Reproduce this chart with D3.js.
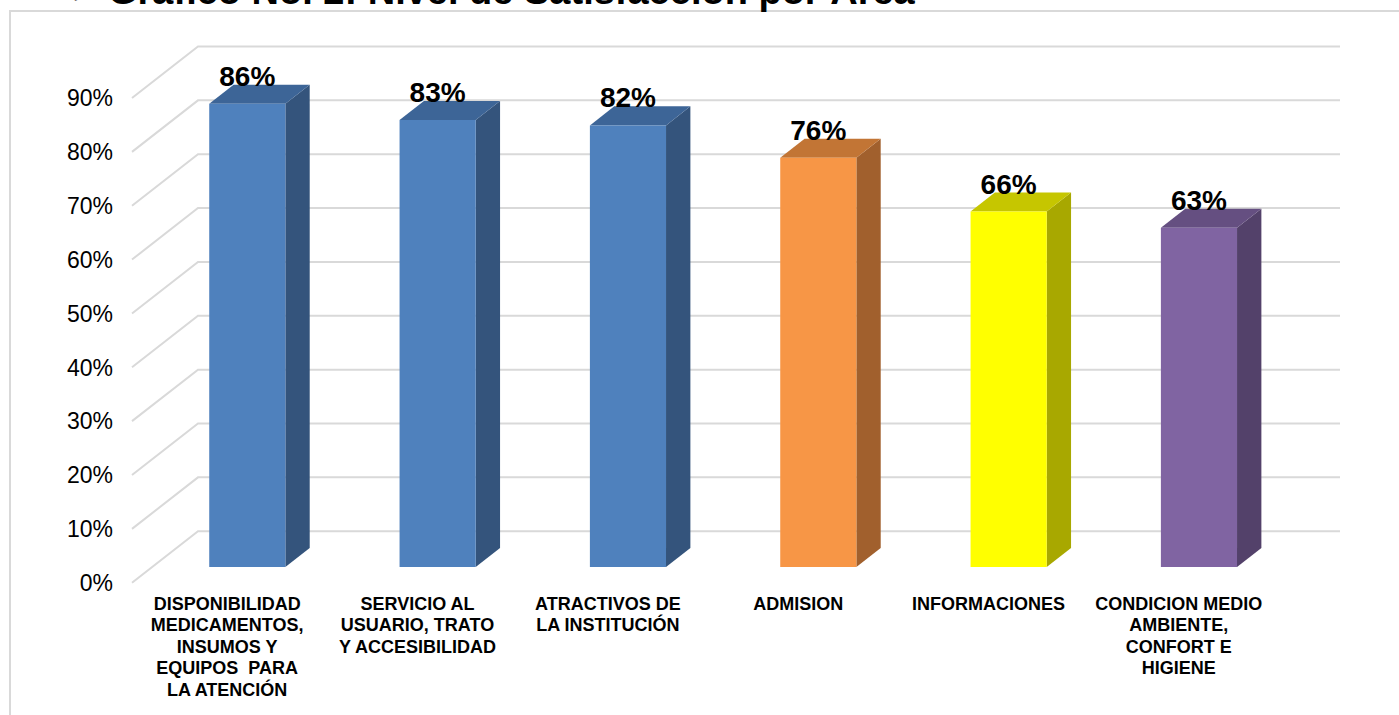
<!DOCTYPE html>
<html>
<head>
<meta charset="utf-8">
<script src="https://cdn.jsdelivr.net/npm/d3@7"></script>
<style>
  html, body { margin: 0; padding: 0; background: #fff; }
  svg { display: block; font-family: Arial, "Liberation Sans", sans-serif; }
</style>
</head>
<body>
<svg id="chart" width="1399" height="715"></svg>
<script>
// ---- data ----
const categories = [
  "DISPONIBILIDAD MEDICAMENTOS, INSUMOS Y EQUIPOS PARA LA ATENCIÓN",
  "SERVICIO AL USUARIO, TRATO Y ACCESIBILIDAD",
  "ATRACTIVOS DE LA INSTITUCIÓN",
  "ADMISION",
  "INFORMACIONES",
  "CONDICION MEDIO AMBIENTE, CONFORT E HIGIENE"
];
const categoryLines = [
  ["DISPONIBILIDAD", "MEDICAMENTOS,", "INSUMOS Y", "EQUIPOS  PARA", "LA ATENCIÓN"],
  ["SERVICIO AL", "USUARIO, TRATO", "Y ACCESIBILIDAD"],
  ["ATRACTIVOS DE", "LA INSTITUCIÓN"],
  ["ADMISION"],
  ["INFORMACIONES"],
  ["CONDICION MEDIO", "AMBIENTE,", "CONFORT E", "HIGIENE"]
];
const values = [86, 83, 82, 76, 66, 63];
const tickValues = [0, 10, 20, 30, 40, 50, 60, 70, 80, 90];
const titleText = "Gráfico No. 2: Nivel de Satisfacción por Área";

// ---- palette (front, top, side) ----
const palette = [
  { front: "#4F81BD", top: "#3D6597", side: "#34547C" },
  { front: "#4F81BD", top: "#3D6597", side: "#34547C" },
  { front: "#4F81BD", top: "#3D6597", side: "#34547C" },
  { front: "#F79646", top: "#C27535", side: "#A1602D" },
  { front: "#FFFF00", top: "#C6C600", side: "#A8A800" },
  { front: "#8064A2", top: "#654F81", side: "#53416A" }
];

const svg = d3.select("#chart");

// 3D projection parameters
const frontLeft = 132, frontRight = 1274;
const DX = 66, DY = -51.5;
const y = d3.scaleLinear().domain([0, 90]).range([582.7, 98]);
const x = d3.scaleBand().domain(categories).range([frontLeft, frontRight]).padding(0);
const P = (px, v, z) => [px + z * DX, y(v) + z * DY];

// outer frame
svg.append("rect")
  .attr("x", 10).attr("y", 11).attr("width", 1400).attr("height", 720)
  .attr("fill", "none").attr("stroke", "#d9d9d9").attr("stroke-width", 2);

// title (cut off at top, as in the reference)
svg.append("text")
  .attr("x", 72).attr("y", 3)
  .attr("font-size", 22).attr("fill", "#000")
  .text("➢");
svg.append("text")
  .attr("x", 108).attr("y", 4)
  .attr("font-size", 38).attr("font-weight", "bold").attr("fill", "#000")
  .text(titleText);

// gridlines (side wall + back wall)
const grid = svg.append("g").attr("stroke", "#d9d9d9").attr("stroke-width", 2).attr("fill", "none");
tickValues.forEach(t => {
  const a = P(frontLeft, t, 0), b = P(frontLeft, t, 1), c = [1340, b[1]];
  grid.append("path").attr("d", d3.line()([a, b, c]));
});

// y-axis labels
svg.append("g").selectAll("text").data(tickValues).join("text")
  .attr("x", 113).attr("y", d => y(d))
  .attr("dy", "0.36em")
  .attr("text-anchor", "end")
  .attr("font-size", 23).attr("fill", "#000")
  .text(d => d + "%");

// bars
const z0 = 0.305, z1 = 0.674, barFrac = 0.4;
const bars = svg.append("g");
categories.forEach((c, i) => {
  const v = values[i];
  const bw = x.bandwidth() * barFrac;
  const cx = x(c) + x.bandwidth() / 2;
  const xl = cx - bw / 2, xr = cx + bw / 2;
  const col = palette[i];
  const fTL = P(xl, v, z0), fTR = P(xr, v, z0), fBR = P(xr, 0, z0), fBL = P(xl, 0, z0);
  const bTL = P(xl, v, z1), bTR = P(xr, v, z1), bBR = P(xr, 0, z1);
  const line = d3.line();
  bars.append("path").attr("d", line([fTR, bTR, bBR, fBR]) + "Z").attr("fill", col.side);
  bars.append("path").attr("d", line([fTL, bTL, bTR, fTR]) + "Z").attr("fill", col.top);
  bars.append("path").attr("d", line([fTL, fTR, fBR, fBL]) + "Z").attr("fill", col.front);
  bars.append("text")
    .attr("x", (fTL[0] + fTR[0]) / 2).attr("y", bTL[1] + 1)
    .attr("text-anchor", "middle")
    .attr("font-size", 28).attr("font-weight", "bold").attr("fill", "#000")
    .text(v + "%");
});

// x-axis category labels
const xlab = svg.append("g");
categories.forEach((c, i) => {
  const cx = x(c) + x.bandwidth() / 2;
  const t = xlab.append("text")
    .attr("text-anchor", "middle")
    .attr("font-size", 18).attr("font-weight", "bold").attr("fill", "#000");
  categoryLines[i].forEach((ln, j) => {
    t.append("tspan").attr("x", cx).attr("y", 609.5 + j * 21.6)
      .style("white-space", "pre").text(ln);
  });
});
</script>
</body>
</html>
